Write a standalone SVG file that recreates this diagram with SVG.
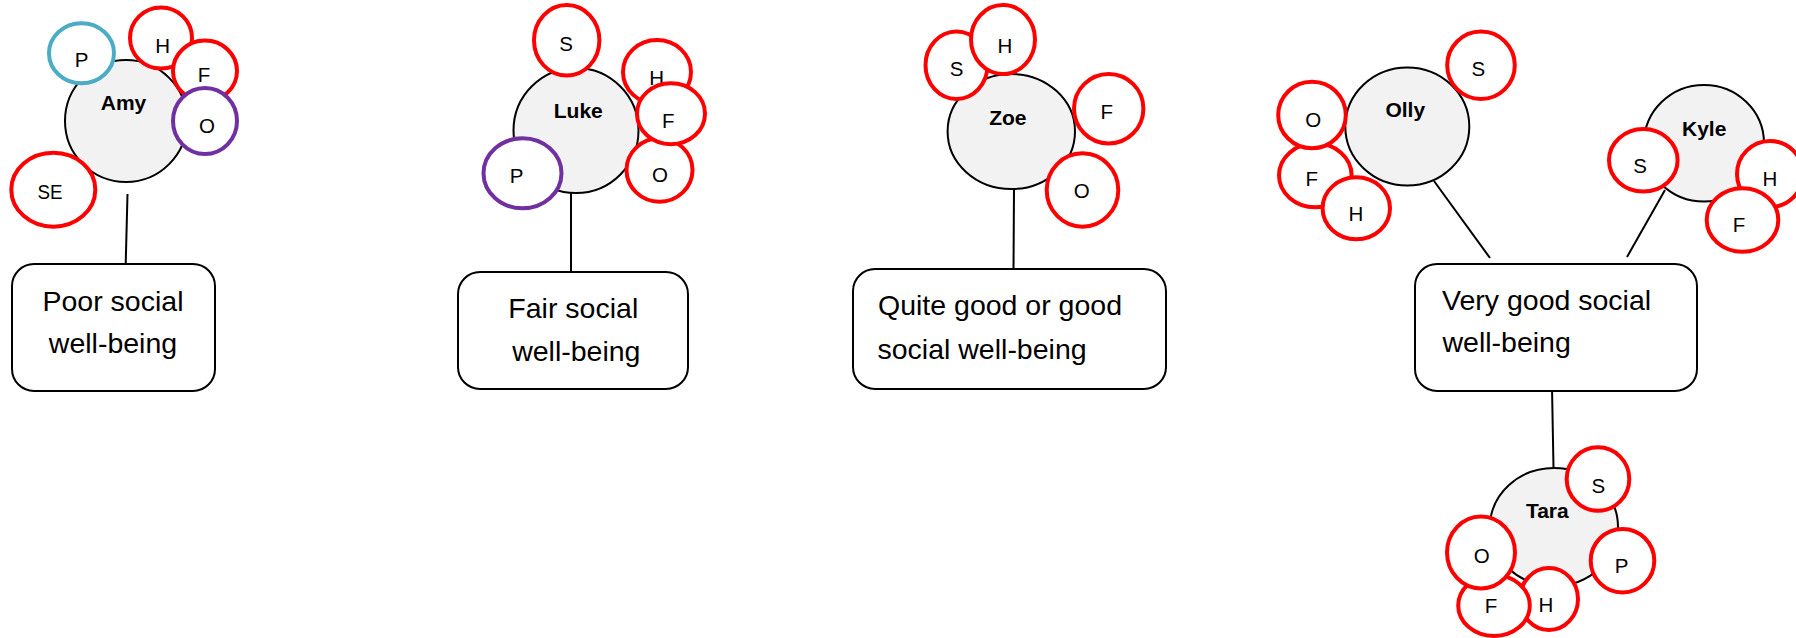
<svg xmlns="http://www.w3.org/2000/svg" width="1796" height="638" viewBox="0 0 1796 638">
  <style>
    .person { fill: #F2F2F2; stroke: #000; stroke-width: 2; }
    .tag { fill: #fff; stroke: #FF0000; stroke-width: 4; }
    .tag.blue { stroke: #4BACC6; }
    .tag.purple { stroke: #7030A0; }
    .box { fill: #fff; stroke: #000; stroke-width: 2; }
    .link { stroke: #000; stroke-width: 2; fill: none; }
    .name { font-family: "Liberation Sans", Arial, sans-serif; font-weight: bold; font-size: 21px; text-anchor: middle; fill: #000; }
    .t { font-family: "Liberation Sans", Arial, sans-serif; font-size: 20.5px; text-anchor: middle; fill: #000; }
    .label { font-family: "Liberation Sans", Arial, sans-serif; font-size: 28.5px; fill: #000; }
    .mid { text-anchor: middle; }
  </style>

  <!-- connectors -->
  <g id="connectors">
    <line class="link" x1="127.5" y1="194" x2="125.7" y2="264"/>
    <line class="link" x1="571" y1="193" x2="571" y2="272"/>
    <line class="link" x1="1014" y1="189" x2="1013.5" y2="269"/>
    <line class="link" x1="1434" y1="181" x2="1490" y2="258"/>
    <line class="link" x1="1665" y1="190" x2="1627" y2="257"/>
    <line class="link" x1="1552" y1="387" x2="1553.5" y2="468"/>
  </g>

  <!-- Amy -->
  <g id="amy">
    <circle class="person" cx="126" cy="121" r="61"/>
    <text class="name" x="123.5" y="110">Amy</text>
    <ellipse class="tag blue" cx="81.5" cy="53.3" rx="32.5" ry="30"/>
    <text class="t" x="81.7" y="66.5">P</text>
    <ellipse class="tag" cx="161" cy="38" rx="31" ry="30.5"/>
    <text class="t" x="162.7" y="52.5">H</text>
    <ellipse class="tag" cx="205" cy="71" rx="32" ry="30.5"/>
    <text class="t" x="204" y="82">F</text>
    <ellipse class="tag purple" cx="205" cy="121" rx="32" ry="33"/>
    <text class="t" x="207" y="133">O</text>
    <ellipse class="tag" cx="53.3" cy="189.7" rx="42" ry="37"/>
    <text class="t" x="50" y="198.5" textLength="25" lengthAdjust="spacingAndGlyphs">SE</text>
  </g>

  <!-- Luke -->
  <g id="luke">
    <circle class="person" cx="576" cy="130.5" r="62.5"/>
    <text class="name" x="578.3" y="118">Luke</text>
    <ellipse class="tag" cx="566.7" cy="40.3" rx="32.7" ry="35.3"/>
    <text class="t" x="566" y="50.5">S</text>
    <ellipse class="tag" cx="657" cy="72" rx="34" ry="32"/>
    <text class="t" x="656.7" y="85">H</text>
    <ellipse class="tag" cx="659.5" cy="170" rx="33" ry="31.7"/>
    <text class="t" x="660" y="181.5">O</text>
    <ellipse class="tag" cx="671" cy="113.7" rx="34" ry="30.5"/>
    <text class="t" x="668.3" y="128">F</text>
    <ellipse class="tag purple" cx="522.5" cy="173.3" rx="39" ry="35"/>
    <text class="t" x="516.7" y="183">P</text>
  </g>

  <!-- Zoe -->
  <g id="zoe">
    <ellipse class="person" cx="1011.3" cy="131.5" rx="63.7" ry="57.5"/>
    <text class="name" x="1007.8" y="125">Zoe</text>
    <ellipse class="tag" cx="956.5" cy="65.3" rx="31" ry="33.7"/>
    <text class="t" x="956.7" y="76">S</text>
    <ellipse class="tag" cx="1003" cy="39.5" rx="32" ry="34.5"/>
    <text class="t" x="1005" y="53">H</text>
    <ellipse class="tag" cx="1108.7" cy="108.7" rx="34.7" ry="34.7"/>
    <text class="t" x="1106.7" y="119">F</text>
    <ellipse class="tag" cx="1082.5" cy="190" rx="35.8" ry="36.7"/>
    <text class="t" x="1081.7" y="198">O</text>
  </g>

  <!-- Olly -->
  <g id="olly">
    <ellipse class="person" cx="1407.3" cy="126.5" rx="62" ry="59"/>
    <text class="name" x="1405.3" y="117">Olly</text>
    <ellipse class="tag" cx="1481" cy="65.3" rx="33.8" ry="33.7"/>
    <text class="t" x="1478.3" y="76">S</text>
    <ellipse class="tag" cx="1315.3" cy="175.3" rx="36.3" ry="32"/>
    <text class="t" x="1311.7" y="186">F</text>
    <ellipse class="tag" cx="1312" cy="115" rx="33.8" ry="33.3"/>
    <text class="t" x="1313.3" y="126.5">O</text>
    <ellipse class="tag" cx="1356.3" cy="208.3" rx="33.7" ry="31"/>
    <text class="t" x="1356" y="220.5">H</text>
  </g>

  <!-- Kyle -->
  <g id="kyle">
    <ellipse class="person" cx="1704" cy="143.3" rx="60" ry="58.3"/>
    <text class="name" x="1704.2" y="136">Kyle</text>
    <ellipse class="tag" cx="1643.3" cy="160.3" rx="34.3" ry="31.3"/>
    <text class="t" x="1640" y="173">S</text>
    <ellipse class="tag" cx="1770" cy="174" rx="33" ry="33"/>
    <text class="t" x="1770" y="186">H</text>
    <ellipse class="tag" cx="1742.5" cy="220" rx="35.8" ry="31.7"/>
    <text class="t" x="1739" y="231.5">F</text>
  </g>

  <!-- Tara -->
  <g id="tara">
    <ellipse class="person" cx="1554" cy="527" rx="64" ry="59"/>
    <text class="name" x="1547.3" y="518">Tara</text>
    <ellipse class="tag" cx="1598" cy="479" rx="31.3" ry="31.7"/>
    <text class="t" x="1598.3" y="492.5">S</text>
    <ellipse class="tag" cx="1622.5" cy="560.7" rx="31.8" ry="31.7"/>
    <text class="t" x="1621.7" y="573">P</text>
    <ellipse class="tag" cx="1549" cy="599" rx="29" ry="31"/>
    <text class="t" x="1546" y="611.5">H</text>
    <ellipse class="tag" cx="1494" cy="605.5" rx="35.8" ry="30.5"/>
    <text class="t" x="1491" y="612.5">F</text>
    <ellipse class="tag" cx="1481" cy="552.5" rx="34" ry="36"/>
    <text class="t" x="1481.7" y="562.5">O</text>
  </g>

  <!-- category boxes -->
  <g id="poor">
    <rect class="box" x="12" y="264" width="203" height="127" rx="22"/>
    <text class="label mid" x="113" y="310.7">Poor social</text>
    <text class="label mid" x="113" y="353">well-being</text>
  </g>
  <g id="fair">
    <rect class="box" x="458" y="272" width="230" height="117" rx="22"/>
    <text class="label mid" x="573.3" y="318.3">Fair social</text>
    <text class="label mid" x="576.3" y="360.7">well-being</text>
  </g>
  <g id="good">
    <rect class="box" x="853" y="269" width="313" height="120" rx="22"/>
    <text class="label" x="878" y="315">Quite good or good</text>
    <text class="label" x="877.5" y="359.3">social well-being</text>
  </g>
  <g id="very-good">
    <rect class="box" x="1415" y="264" width="282" height="127" rx="22"/>
    <text class="label" x="1442" y="310">Very good social</text>
    <text class="label" x="1442.5" y="352">well-being</text>
  </g>
</svg>
